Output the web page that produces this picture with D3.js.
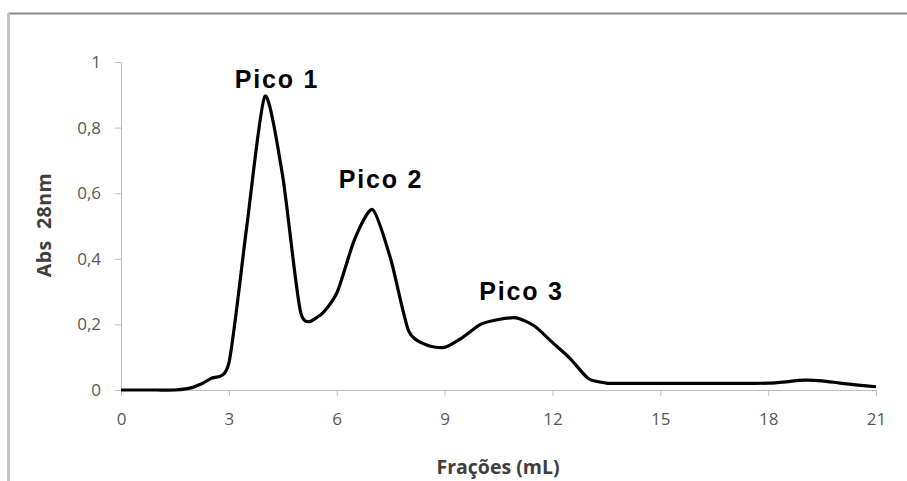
<!DOCTYPE html>
<html>
<head>
<meta charset="utf-8">
<script src="https://cdn.jsdelivr.net/npm/d3@7"></script>
<style>
  body { margin: 0; background: #fff; }
  svg { display: block; }
</style>
</head>
<body>
<svg id="chart" width="907" height="481"></svg>
<script>
// fractions (mL) and absorbance, every 0.5 mL
const fractions = [0, 0.5, 1, 1.5, 2, 2.5, 3, 3.5, 4, 4.5, 5, 5.5, 6, 6.5, 7, 7.5, 8, 8.5, 9, 9.5, 10,
  10.5, 11, 11.5, 12, 12.5, 13, 13.5, 14, 14.5, 15, 15.5, 16, 16.5, 17, 17.5, 18, 18.5, 19, 19.5, 20, 20.5, 21];
const absorbance = [0, 0, 0, 0, 0.008, 0.035, 0.082, 0.5, 0.895, 0.65, 0.235, 0.225, 0.295, 0.46, 0.55, 0.4, 0.18,
  0.137, 0.13, 0.16, 0.2, 0.215, 0.22, 0.195, 0.145, 0.095, 0.035, 0.021, 0.02, 0.02, 0.02, 0.02, 0.02, 0.02,
  0.02, 0.02, 0.021, 0.025, 0.03, 0.028, 0.021, 0.015, 0.01];

const xTicks = [0, 3, 6, 9, 12, 15, 18, 21];
const yTicks = [0, 0.2, 0.4, 0.6, 0.8, 1];

const peakLabels = ['Pico 1', 'Pico 2', 'Pico 3'];
const peakX = [4.34, 7.23, 11.14];
const peakY = [0.92, 0.616, 0.274];

const width = 907;
const height = 481;
const plotLeft = 121, plotRight = 876, plotTop = 62, plotBottom = 390;

const svg = d3.select('#chart');

// outer frame (only top and left edges visible)
svg.append('line')
  .attr('x1', 8).attr('x2', width)
  .attr('y1', 13.5).attr('y2', 13.5)
  .attr('stroke', '#8a8a8a').attr('stroke-width', 2);
svg.append('line')
  .attr('x1', 8.5).attr('x2', 8.5)
  .attr('y1', 13).attr('y2', height)
  .attr('stroke', '#c6c6c6').attr('stroke-width', 3);

const x = d3.scaleLinear().domain([0, 21]).range([plotLeft, plotRight]);
const y = d3.scaleLinear().domain([0, 1]).range([plotBottom, plotTop]);

const fmt = d => String(d).replace('.', ',');

// y axis
const yAxis = svg.append('g')
  .attr('transform', `translate(${plotLeft},0)`)
  .call(d3.axisLeft(y).tickValues(yTicks).tickSize(6).tickPadding(14).tickFormat(fmt));
yAxis.select('.domain').attr('stroke', '#bfbfbf');
yAxis.selectAll('.tick line').attr('stroke', '#bfbfbf');
yAxis.selectAll('text')
  .attr('fill', '#595959')
  .style('font-family', '"Open Sans", sans-serif')
  .style('font-size', '17px');

// x axis
const xAxis = svg.append('g')
  .attr('transform', `translate(0,${plotBottom})`)
  .call(d3.axisBottom(x).tickValues(xTicks).tickSize(6).tickPadding(17));
xAxis.select('.domain').attr('stroke', '#bfbfbf');
xAxis.selectAll('.tick line').attr('stroke', '#bfbfbf');
xAxis.selectAll('text')
  .attr('fill', '#595959')
  .style('font-family', '"Open Sans", sans-serif')
  .style('font-size', '17px');

// curve
const data = fractions.map((f, i) => ({ f, a: absorbance[i] }));
const line = d3.line()
  .x(d => x(d.f))
  .y(d => y(d.a))
  .curve(d3.curveCardinal.tension(0.3));
svg.append('path')
  .datum(data)
  .attr('fill', 'none')
  .attr('stroke', '#000')
  .attr('stroke-width', 3.2)
  .attr('stroke-linejoin', 'round')
  .attr('d', line);

// peak labels
svg.selectAll('.peak')
  .data(peakLabels)
  .enter().append('text')
  .attr('class', 'peak')
  .attr('x', (d, i) => x(peakX[i]))
  .attr('y', (d, i) => y(peakY[i]))
  .attr('text-anchor', 'middle')
  .style('font-family', '"Liberation Sans", Arial, sans-serif')
  .style('font-weight', 'bold')
  .style('font-size', '25px')
  .style('letter-spacing', '1.8px')
  .text(d => d);

// axis titles
svg.append('text')
  .attr('x', 498)
  .attr('y', 474)
  .attr('text-anchor', 'middle')
  .attr('fill', '#404040')
  .style('font-family', '"Open Sans", sans-serif')
  .style('font-weight', 'bold')
  .style('font-size', '19.5px')
  .text('Frações (mL)');

svg.append('text')
  .attr('transform', 'translate(51,225) rotate(-90)')
  .attr('text-anchor', 'middle')
  .attr('fill', '#404040')
  .style('font-family', '"Open Sans", sans-serif')
  .style('font-weight', 'bold')
  .style('font-size', '19.5px')
  .style('letter-spacing', '0.5px')
  .style('white-space', 'pre')
  .text('Abs  28nm');
</script>
</body>
</html>
